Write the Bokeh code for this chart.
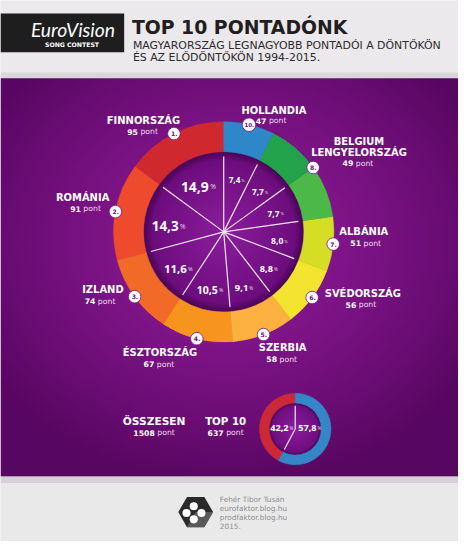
import math
import numpy as np
from bokeh.plotting import figure
from bokeh.models import Range1d, ColumnDataSource
from bokeh.core.properties import value
from bokeh.embed import file_html
from bokeh.resources import INLINE

# ---------------- data ----------------
countries = ["FINNORSZÁG", "ROMÁNIA", "IZLAND", "ÉSZTORSZÁG", "SZERBIA",
             "SVÉDORSZÁG", "ALBÁNIA", "LENGYELORSZÁG", "BELGIUM", "HOLLANDIA"]
points = [95, 91, 74, 67, 58, 56, 51, 49, 49, 47]
ranks = [1, 2, 3, 4, 5, 6, 7, 8, 9, 10]
total_all = 1508
title = "TOP 10 PONTADÓNK"
subtitle = ["MAGYARORSZÁG LEGNAGYOBB PONTADÓI A DÖNTŐKÖN", "ÉS AZ ELŐDÖNTŐKÖN 1994-2015."]
credits = ["Fehér Tibor Tusán", "eurofaktor.blog.hu", "prodfaktor.blog.hu", "2015."]

# ---------------- style ----------------
seg_colors = ["#D0282F", "#EE4A2D", "#F26A28", "#F7941E", "#FBB040",
              "#F3E52F", "#D5DE25", "#4CB848", "#22A24A", "#2E87C9"]
K = 458 / 474.0  # px per data unit
H_REF = 557
FONT = "DejaVu Sans"


def Y(v):
    return H_REF - v


p = figure(width=458, height=541, x_range=Range1d(0, 474),
           y_range=Range1d(-1.45, 558.45), output_backend="svg",
           toolbar_location=None, min_border=0)
p.axis.visible = False
p.grid.visible = False
p.outline_line_color = None
p.background_fill_color = "#EAE8EA"
p.border_fill_color = "#EAE8EA"


def txt(x, y, s, size, color="white", bold=False, align="center",
        font=FONT, italic=False, baseline="middle", alpha=1.0):
    style = "normal"
    if bold and italic:
        style = "bold italic"
    elif bold:
        style = "bold"
    elif italic:
        style = "italic"
    p.text(x=[x], y=[Y(y)], text=[s], text_font=value(font),
           text_font_size=value(f"{size * K:.2f}px"),
           text_font_style=value(style), text_color=color, text_alpha=alpha,
           text_align=align, text_baseline=baseline)


# ---------------- background bands ----------------
p.quad(left=[0], right=[474], top=[Y(0)], bottom=[Y(73)], fill_color="#EBE9EB", line_color=None)
p.quad(left=[0], right=[474], top=[Y(73)], bottom=[Y(79)], fill_color="#D9D7D9", line_color=None)
p.quad(left=[0], right=[474], top=[Y(491)], bottom=[Y(498)], fill_color="#D6D0D7", line_color=None)
p.quad(left=[0], right=[474], top=[Y(498)], bottom=[Y(557)], fill_color="#EAE9EA", line_color=None)

# purple radial gradient
GH, GW = 207, 237
ys_ref = 491 - (np.arange(GH) + 0.5) * (412 / GH)
xs_ref = (np.arange(GW) + 0.5) * (474 / GW)
XX, YY = np.meshgrid(xs_ref, ys_ref)
d = np.clip(np.sqrt(((XX - 237) / 300.0) ** 2 + ((YY - 250) / 255.0) ** 2), 0, 1)
t = d ** 1.4
c0 = np.array([0x8E, 0x1A, 0x97], dtype=float)
c1 = np.array([0x57, 0x06, 0x61], dtype=float)
rgb = c0[None, None, :] * (1 - t[..., None]) + c1[None, None, :] * t[..., None]
img = np.empty((GH, GW), dtype=np.uint32)
view = img.view(dtype=np.uint8).reshape((GH, GW, 4))
view[..., 0] = rgb[..., 0].astype(np.uint8)
view[..., 1] = rgb[..., 1].astype(np.uint8)
view[..., 2] = rgb[..., 2].astype(np.uint8)
view[..., 3] = 255
p.image_rgba(image=[img], x=0, y=Y(491), dw=474, dh=412)


# ---------------- header ----------------
p.quad(left=[0], right=[128], top=[Y(12)], bottom=[Y(52)], fill_color="#1E1E1E", line_color=None)
txt(75, 29, "EuroVision", 20, italic=True, font="Lato")
txt(74, 44, "SONG CONTEST", 6.4, bold=True)
txt(136, 27, title, 19.5, color="#221E20", bold=True, align="left")
txt(137, 45, subtitle[0], 11.3, color="#2E2B2E", align="left")
txt(137, 58, subtitle[1], 11.3, color="#2E2B2E", align="left")


def grad_disc(cx, cy, r, c_center, c_mid, c_edge, n=40):
    rs, cols = [], []
    for k in range(n):
        f = 1 - k / n
        rr = r * f
        if f > 0.9:
            u = (f - 0.9) / 0.1
            a, b = c_mid, c_edge
        else:
            u = f / 0.9
            a, b = c_center, c_mid
        col = tuple(int(a[j] + (b[j] - a[j]) * u) for j in range(3))
        rs.append(rr)
        cols.append("#%02X%02X%02X" % col)
    p.circle(x=[cx] * n, y=[Y(cy)] * n, radius=rs, fill_color=cols, line_color=None)


# ---------------- main donut ----------------
CX, CY = 231, 238
R_OUT, R_IN = 114, 83
tot = float(sum(points))
frac = [v / tot for v in points]
order = list(range(len(points)))[::-1]  # clockwise from top: rank 10 ... rank 1

grad_disc(CX, CY, R_IN, (0x8C, 0x1E, 0x9D), (0x6E, 0x0E, 0x7E), (0x4C, 0x05, 0x58))

starts, ends, mids, bounds = {}, {}, {}, [0.0]
c = 0.0
for i in order:
    a0, a1 = c, c + frac[i]
    c = a1
    starts[i] = math.pi / 2 - 2 * math.pi * a1
    ends[i] = math.pi / 2 - 2 * math.pi * a0
    mids[i] = math.pi / 2 - 2 * math.pi * (a0 + a1) / 2
    bounds.append(a1)

src = ColumnDataSource(dict(
    x=[CX] * len(points), y=[Y(CY)] * len(points),
    s=[starts[i] for i in range(len(points))],
    e=[ends[i] for i in range(len(points))],
    col=seg_colors))
p.annular_wedge(x="x", y="y", inner_radius=R_IN, outer_radius=R_OUT,
                start_angle="s", end_angle="e", fill_color="col",
                line_color="col", line_width=0.5, source=src)

# radial white lines
L = 78
ang = [math.pi / 2 - 2 * math.pi * b for b in bounds[:-1]]
p.segment(x0=[CX] * len(ang), y0=[Y(CY)] * len(ang),
          x1=[CX + L * math.cos(a) for a in ang],
          y1=[Y(CY) + L * math.sin(a) for a in ang],
          line_color="#F4E6F6", line_width=1.2)


def pct_label(xc, yc, v, fs):
    s = f"{v:.1f}".replace(".", ",")
    nd = sum(ch.isdigit() for ch in s)
    wn = (nd * 0.57 + 0.28) * fs
    fp = fs * 0.5
    wp = 0.8 * fp
    gap = 0.12 * fs
    left = xc - (wn + gap + wp) / 2
    base = yc + 0.36 * fs
    txt(left, base, s, fs, bold=True, align="left", baseline="alphabetic", font="Open Sans")
    txt(left + wn + gap, base, "%", fp, align="left", baseline="alphabetic", font="Open Sans",
        alpha=0.85)


R_LAB = 58
for i in range(len(points)):
    v = 100 * frac[i]
    fs = 2.5 + 0.8 * v
    a = mids[i]
    pct_label(CX + R_LAB * math.cos(a), CY - R_LAB * math.sin(a), v, fs)


def rank_badge(x, y, r_txt, rad=6.5):
    p.circle(x=[x], y=[Y(y)], radius=rad, fill_color="white", line_color="#7A1285", line_width=0.8)
    txt(x + 0.3, y + 0.3, r_txt, 6.3 if len(r_txt) < 3 else 5.6, color="#6B0F78", bold=True)


def pont(xc, y, num, size=8.0):
    wn = len(num) * 0.696 * size
    wp = 2.27 * size
    gap = 0.32 * size
    left = xc - (wn + gap + wp) / 2
    txt(left, y, num, size, bold=True, align="left")
    txt(left + wn + gap, y, "pont", size, color="#EBDCEC", align="left")


# label layout per rank index: (name lines [(text, x, y)], pont (x, y))
layout = {
    0: ([("FINNORSZÁG", 148, 123)], (147, 134.5)),
    1: ([("ROMÁNIA", 85, 202)], (88, 214)),
    2: ([("IZLAND", 106, 298)], (103, 310)),
    3: ([("ÉSZTORSZÁG", 165, 363)], (164, 375)),
    4: ([("SZERBIA", 292, 358)], (291, 370)),
    5: ([("SVÉDORSZÁG", 375, 302)], (373, 313.5)),
    6: ([("ALBÁNIA", 376, 238)], (378, 250)),
    7: ([("BELGIUM", 371, 144), ("LENGYELORSZÁG", 371, 156)], (370, 167)),
    9: ([("HOLLANDIA", 283, 112)], (280, 123)),
}
R_B = 114
for i, (names, pp) in layout.items():
    for (nm, x, y) in names:
        txt(x, y, nm, 10.3, bold=True)
    pont(pp[0], pp[1], str(points[i]))
    if i == 7:
        a = (mids[7] + mids[8]) / 2  # shared badge for the tied ranks 8 and 9
    else:
        a = mids[i]
    rank_badge(CX + R_B * math.cos(a), CY - R_B * math.sin(a), f"{ranks[i]}.",
               rad=7 if ranks[i] == 10 else 6.5)

# ---------------- summary ----------------
top10 = int(sum(points))
txt(159, 434, "ÖSSZESEN", 11.0, bold=True)
pont(159, 446, str(total_all), 8.0)
txt(233, 434, "TOP 10", 10.6, bold=True)
pont(233, 446, str(top10), 8.0)

SX, SY = 305, 442
SR_OUT, SR_IN = 37, 27
f_top = top10 / float(total_all)
grad_disc(SX, SY, SR_IN, (0x8C, 0x1E, 0x9D), (0x70, 0x0F, 0x80), (0x50, 0x06, 0x5C), n=20)
sa = [math.pi / 2, math.pi / 2 + 2 * math.pi * f_top]
ea = [math.pi / 2 + 2 * math.pi * f_top, math.pi / 2 + 2 * math.pi]
p.annular_wedge(x=[SX, SX], y=[Y(SY), Y(SY)], inner_radius=SR_IN, outer_radius=SR_OUT,
                start_angle=sa, end_angle=ea, fill_color=["#CC2936", "#3486C7"],
                line_color=["#CC2936", "#3486C7"], line_width=0.5)
SL = 24
p.segment(x0=[SX, SX], y0=[Y(SY), Y(SY)],
          x1=[SX + SL * math.cos(a) for a in sa],
          y1=[Y(SY) + SL * math.sin(a) for a in sa],
          line_color="#F4E6F6", line_width=1.2)
pct_label(291, 438, 100 * f_top, 9.5)
pct_label(320, 438, 100 * (1 - f_top), 9.5)

# ---------------- footer ----------------
HX, HY, HR = 202, 528, 18
hx = [HX + HR * math.cos(math.radians(60 * k)) for k in range(6)]
hy = [Y(HY) + HR * math.sin(math.radians(60 * k)) for k in range(6)]
p.patch(x=hx, y=hy, fill_color="#2A2A2A", line_color=None)
p.patch(x=[hx[0], hx[5], hx[4], HX], y=[hy[0], hy[5], hy[4], Y(HY)], fill_color="#7A7A7A",
        fill_alpha=0.6, line_color=None)
p.circle(x=[200, 192.5, 208, 200], y=[Y(522), Y(529), Y(529), Y(535.5)], radius=4.2,
         fill_color="white", line_color=None)
for k, s in enumerate(credits):
    txt(227, 515 + 9.2 * k, s, 7.6, color="#8C8C8C", align="left")

open("out.html", "w").write(file_html(p, INLINE))
